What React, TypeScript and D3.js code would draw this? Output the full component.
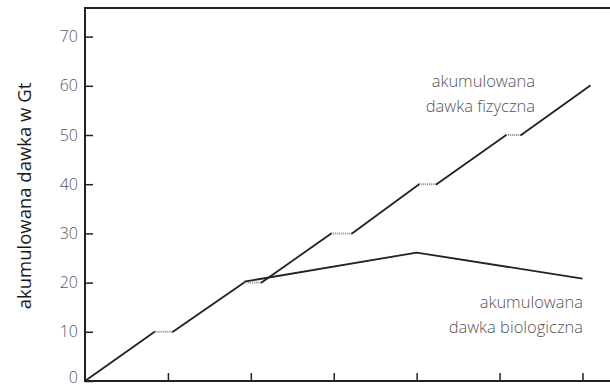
import React, { useEffect, useRef } from 'react';
import * as d3 from 'd3';

// x in tick units (ticks at 1..6), y in Gt
const physX = [0, 0.84, 1.06, 1.92, 2.13, 2.97, 3.22, 4.03, 4.24, 5.08, 5.26, 6.09];
const physY = [0, 10, 10, 20, 20, 30, 30, 40, 40, 50, 50, 60];
const bioX = [1.92, 4.0, 6.0];
const bioY = [20.2, 26.1, 20.8];
const yTicks = [0, 10, 20, 30, 40, 50, 60, 70];
const xTicks = [1, 2, 3, 4, 5, 6];

const W = 610;
const H = 387;

const App = () => {
    const svgRef = useRef<SVGSVGElement>(null);

    useEffect(() => {
        const svg = d3.select(svgRef.current);
        svg.selectAll('*').remove();

        const x = d3.scaleLinear().domain([0, 6]).range([85, 582.5]);
        const y = d3.scaleLinear().domain([0, 70]).range([381, 36.6]);
        const top = 8;
        const right = W;
        const ink = '#222';
        const font = '"Open Sans", sans-serif';

        // y axis ticks (inward)
        const yAxis = svg.append('g')
            .attr('transform', `translate(${x(0)},0)`)
            .call(d3.axisLeft(y).tickValues(yTicks).tickSize(-8).tickPadding(7));
        yAxis.select('.domain').remove();
        yAxis.selectAll('line').attr('stroke', ink).attr('stroke-width', 1.5);
        yAxis.selectAll('text')
            .attr('fill', '#555')
            .attr('dy', (d) => (d === 0 ? '0.1em' : '0.32em'))
            .style('font-family', font)
            .style('font-weight', 300)
            .style('font-size', '16px');

        // x axis ticks (inward, no labels)
        const xAxis = svg.append('g')
            .attr('transform', `translate(0,${y(0)})`)
            .call(d3.axisBottom(x).tickValues(xTicks).tickSize(-8).tickFormat(() => ''));
        xAxis.select('.domain').remove();
        xAxis.selectAll('line').attr('stroke', ink).attr('stroke-width', 1.5);

        // frame: left, bottom, top
        svg.append('path')
            .attr('d', `M${right},${top}H${x(0)}V${y(0)}H${right}`)
            .attr('stroke', ink)
            .attr('stroke-width', 2)
            .attr('fill', 'none');

        // physical dose: solid rises, dotted plateaus
        const pts = physX.map((d, i) => [x(d), y(physY[i])] as [number, number]);
        for (let i = 0; i < pts.length - 1; i++) {
            const flat = physY[i] === physY[i + 1];
            svg.append('line')
                .attr('x1', pts[i][0]).attr('y1', pts[i][1])
                .attr('x2', pts[i + 1][0]).attr('y2', pts[i + 1][1])
                .attr('stroke', flat ? '#888' : ink)
                .attr('stroke-width', flat ? 2 : 1.8)
                .attr('stroke-dasharray', flat ? '1,1' : null)
                .attr('stroke-linecap', flat ? 'butt' : 'round');
        }

        // biological dose
        const line = d3.line<number>().x((d) => x(d)).y((d, i) => y(bioY[i]));
        svg.append('path')
            .attr('d', line(bioX))
            .attr('fill', 'none')
            .attr('stroke', ink)
            .attr('stroke-width', 1.8);

        // annotations
        const note = (lines: string[], xr: number, y0: number) => {
            const t = svg.append('text')
                .attr('text-anchor', 'end')
                .attr('fill', '#555')
                .style('font-family', font)
                .style('font-weight', 300)
                .style('font-size', '16.5px');
            lines.forEach((s, i) => {
                t.append('tspan').attr('x', xr).attr('y', y0 + i * 25).text(s);
            });
        };
        note(['akumulowana', 'dawka fizyczna'], 535, 87);
        note(['akumulowana', 'dawka biologiczna'], 583, 308);

        // y label
        svg.append('text')
            .attr('transform', `translate(31,196) rotate(-90)`)
            .attr('text-anchor', 'middle')
            .attr('fill', '#1a1a1a')
            .style('font-family', font)
            .style('font-size', '18.5px')
            .text('akumulowana dawka w Gt');
    }, []);

    return (
        <svg
            ref={svgRef}
            width={W}
            height={H}
            style={{ position: 'absolute', left: 0, top: 0, background: '#fff' }}
        />
    );
};

export default App;
